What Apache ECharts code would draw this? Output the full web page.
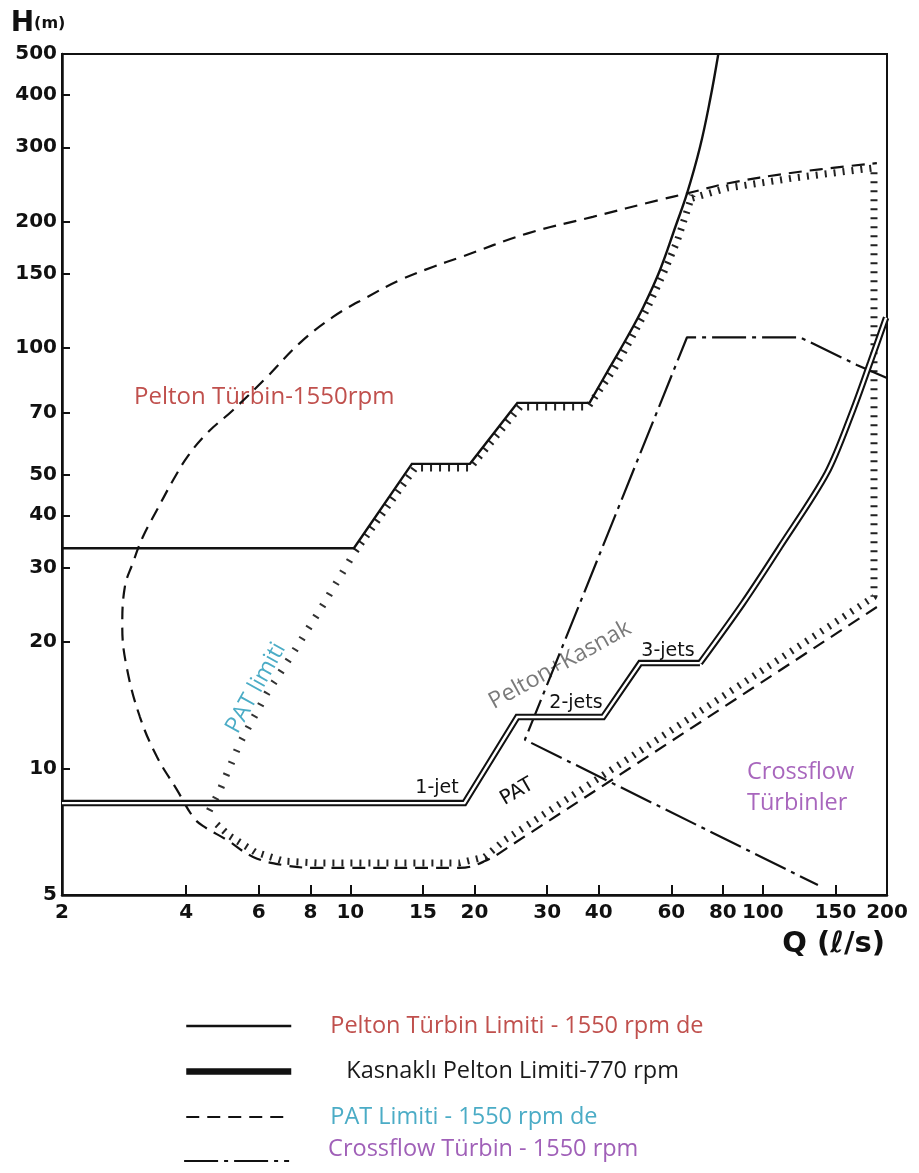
<!DOCTYPE html>
<html>
<head>
<meta charset="utf-8">
<script src="https://cdn.jsdelivr.net/npm/echarts@6/dist/echarts.min.js"></script>
<style>
html,body{margin:0;padding:0;background:#ffffff;}
#chart{width:919px;height:1173px;}
</style>
</head>
<body>
<div id="chart"></div>
<script>
// ---- tick labels ----
const xTicks = [2, 4, 6, 8, 10, 15, 20, 30, 40, 60, 80, 100, 150, 200];
const yTicks = [5, 10, 20, 30, 40, 50, 70, 100, 150, 200, 300, 400, 500];

// ---- series names ----
const nPelton = 'Pelton Türbin Limiti - 1550 rpm de';
const nKasnak = 'Kasnaklı Pelton Limiti-770 rpm';
const nPat = 'PAT Limiti - 1550 rpm de';
const nCross = 'Crossflow Türbin - 1550 rpm';

// ---- data [Q (l/s), H (m)] ----
const peltonSteps = [[2, 33.4], [10.2, 33.4], [14.1, 53], [19.5, 53], [25.4, 74], [38, 74]];
const peltonCurve = [[38, 74], [42.6, 90], [46.9, 106], [51.3, 125], [56.3, 153], [61.6, 196], [65.5, 233], [70.4, 300], [74.5, 389], [78, 500]];

const kasnakSteps = [[2, 8.27], [18.9, 8.27], [25.4, 13.25], [41, 13.25], [50.4, 17.8], [70.4, 17.8]];
const kasnakCurve = [[70.4, 17.8], [89.5, 24.7], [110, 33.6], [143, 50.4], [165.5, 71.2], [182, 92.1], [199, 118]];

const patPath = [[189, 24.2], [24.4, 6.54], [21.2, 6.02], [18.4, 5.8], [8.3, 5.8], [6.87, 5.89], [5.81, 6.16], [5.02, 6.76],
  [4.39, 7.3], [4.16, 7.66], [3.80, 8.89], [3.40, 10.65], [3.09, 13.25], [2.87, 17.4], [2.80, 21.7], [2.84, 27.0],
  [2.97, 30.8], [3.14, 35.5], [3.40, 41.2], [3.72, 48.5], [4.05, 55.5], [4.50, 62.8], [5.20, 71.2], [6.28, 85.3], [7.55, 102.8],
  [9.08, 118.5], [10.97, 132], [13.2, 145], [15.9, 156], [18.4, 164], [26.8, 187], [38.7, 205], [56.3, 225],
  [65.5, 233], [81.9, 246], [118, 261], [189, 275]];

const crossflow = [[200, 84.8], [169, 91.1], [123, 106], [65.5, 106], [26.5, 11.7], [136, 5.28]];

// hatching along region boundaries
const hatchPelton = [[10.3, 32.9], [14.35, 51.8], [19.5, 51.8], [25.8, 72.4], [37.7, 72.4], [43.6, 89.1], [47.9, 105],
  [52.4, 123.8], [57.6, 151.6], [61.9, 178.7], [65.5, 211.6], [67.4, 231]];
const hatchPat = [[67.4, 227], [81.9, 240], [118.4, 253.5], [186, 268], [186, 25.6], [23.7, 6.76], [21.2, 6.16],
  [18.4, 5.96], [8.3, 5.96], [6.90, 6.02], [5.87, 6.33], [5.11, 6.90], [4.62, 7.54]];
const hatchDiag = [[9.98, 31.3], [8.44, 23.8], [7.26, 18.8], [6.28, 15.1], [5.40, 11.5], [4.83, 8.89], [4.52, 7.83]];

// ---- chart ----
const chart = echarts.init(document.getElementById('chart'), null, { renderer: 'canvas' });
const INK = '#111111';
const base = { type: 'line', symbol: 'none', silent: true, animation: false };
const hatchStyle = { color: '#222222', width: 7, type: [2, 7], cap: 'butt' };
const roundInt = v => String(Math.round(v));
const axisFont = { fontFamily: 'DejaVu Sans', fontWeight: 'bold', fontSize: 20, color: INK };
const annFont = '"Open Sans"';

const legendBase = {
  orient: 'vertical', left: 183, padding: 0, height: 200,
  itemWidth: 105, itemHeight: 14, itemGap: 21.5,
  selectedMode: false,
  itemStyle: { opacity: 0 },
  lineStyle: { width: 'inherit' },
  textStyle: { fontFamily: annFont, fontSize: 23.5, lineHeight: 20, padding: [0, 0, 0, 34] }
};

const option = {
  backgroundColor: '#ffffff',
  animation: false,
  grid: { left: 62, top: 54, width: 825, height: 841, show: true, borderColor: INK, borderWidth: 2 },
  xAxis: {
    type: 'log', logBase: 10, min: 2, max: 200,
    axisLine: { lineStyle: { color: INK, width: 2.5 } },
    axisTick: { inside: true, length: 10, lineStyle: { color: INK, width: 2 }, customValues: xTicks },
    axisLabel: Object.assign({ customValues: xTicks, formatter: roundInt, margin: 8 }, axisFont),
    splitLine: { show: false }, minorTick: { show: false }, minorSplitLine: { show: false },
    name: 'Q (ℓ/s)', nameLocation: 'end', nameGap: 0,
    nameTextStyle: { fontFamily: 'DejaVu Sans', fontWeight: 'bold', fontSize: 29, color: INK,
      align: 'right', verticalAlign: 'top', padding: [35, 2, 0, 0] }
  },
  yAxis: {
    type: 'log', logBase: 10, min: 5, max: 500,
    axisLine: { lineStyle: { color: INK, width: 2.5 } },
    axisTick: { inside: true, length: 8, lineStyle: { color: INK, width: 2 }, customValues: yTicks },
    axisLabel: Object.assign({ customValues: yTicks, formatter: roundInt, margin: 5 }, axisFont),
    splitLine: { show: false }, minorTick: { show: false }, minorSplitLine: { show: false },
    name: '{h|H}{m|(m)}', nameLocation: 'end', nameGap: 16,
    nameTextStyle: {
      align: 'center', verticalAlign: 'bottom', padding: [0, 48, 0, 0],
      rich: {
        h: { fontFamily: 'DejaVu Sans', fontWeight: 'bold', fontSize: 28, color: INK },
        m: { fontFamily: 'DejaVu Sans', fontWeight: 'bold', fontSize: 16, color: INK }
      }
    }
  },
  legend: [
    Object.assign({}, legendBase, {
      top: 1014,
      data: [
        { name: nPelton, textStyle: { color: '#c0504d' } },
        { name: nKasnak, textStyle: { color: '#1a1a1a', padding: [0, 0, 0, 50] } },
        { name: nPat, textStyle: { color: '#4bacc6' } }
      ]
    }),
    Object.assign({}, legendBase, {
      top: 1137,
      formatter: name => '{t|' + name + '}\n{s| }',
      textStyle: {
        fontFamily: annFont, fontSize: 23.5, padding: [0, 0, 0, 34], color: '#a060b8',
        rich: {
          t: { fontFamily: annFont, fontSize: 23.5, lineHeight: 28, color: '#a060b8' },
          s: { fontSize: 2, lineHeight: 24 }
        }
      },
      data: [{ name: nCross }]
    })
  ],
  series: [
    Object.assign({}, base, { name: 'hatchPelton', data: hatchPelton, lineStyle: hatchStyle, z: 2 }),
    Object.assign({}, base, { name: 'hatchPat', data: hatchPat, lineStyle: hatchStyle, z: 2 }),
    Object.assign({}, base, { name: 'hatchDiag', data: hatchDiag, lineStyle: { color: '#333', width: 7, type: [2, 11], cap: 'butt' }, z: 2 }),
    Object.assign({}, base, { name: nPelton, data: peltonSteps, lineStyle: { color: INK, width: 2.4, join: 'miter' }, z: 5 }),
    Object.assign({}, base, { name: nPelton, data: peltonCurve, smooth: 0.4, lineStyle: { color: INK, width: 2.4 }, z: 5 }),
    Object.assign({}, base, { name: nKasnak, data: kasnakSteps, lineStyle: { color: INK, width: 6.5, join: 'miter' }, z: 6 }),
    Object.assign({}, base, { name: nKasnak, data: kasnakCurve, smooth: 0.3, lineStyle: { color: INK, width: 6.5 }, z: 6 }),
    Object.assign({}, base, { name: 'kasnakInnerA', data: kasnakSteps, lineStyle: { color: '#ffffff', width: 2.4, join: 'miter' }, z: 7 }),
    Object.assign({}, base, { name: 'kasnakInnerB', data: kasnakCurve, smooth: 0.3, lineStyle: { color: '#ffffff', width: 2.4 }, z: 7 }),
    Object.assign({}, base, { name: nPat, data: patPath, smooth: 0.4, lineStyle: { color: INK, width: 2.2, type: [13, 8] }, z: 4 }),
    Object.assign({}, base, { name: nCross, data: crossflow, lineStyle: { color: INK, width: 2.2, type: [34, 6, 4, 6] }, z: 4 })
  ],
  graphic: [
    { type: 'text', x: 134, y: 397, silent: true, style: { text: 'Pelton Türbin-1550rpm', fill: '#c0504d', fontFamily: annFont, fontSize: 24, align: 'left', verticalAlign: 'middle' } },
    { type: 'text', x: 256, y: 688, rotation: 61 * Math.PI / 180, silent: true, style: { text: 'PAT limiti', fill: '#4bacc6', fontFamily: annFont, fontSize: 23, align: 'center', verticalAlign: 'middle' } },
    { type: 'text', x: 560, y: 665, rotation: 29 * Math.PI / 180, silent: true, style: { text: 'Pelton+Kasnak', fill: '#7a7a7a', fontFamily: annFont, fontSize: 23, align: 'center', verticalAlign: 'middle' } },
    { type: 'text', x: 747, y: 772, silent: true, style: { text: 'Crossflow', fill: '#a866bd', fontFamily: annFont, fontSize: 23.5, align: 'left', verticalAlign: 'middle' } },
    { type: 'text', x: 747, y: 803, silent: true, style: { text: 'Türbinler', fill: '#a866bd', fontFamily: annFont, fontSize: 23.5, align: 'left', verticalAlign: 'middle' } },
    { type: 'text', x: 437, y: 788, silent: true, style: { text: '1-jet', fill: INK, fontFamily: 'DejaVu Sans', fontSize: 19, align: 'center', verticalAlign: 'middle' } },
    { type: 'text', x: 576, y: 703, silent: true, style: { text: '2-jets', fill: INK, fontFamily: 'DejaVu Sans', fontSize: 19, align: 'center', verticalAlign: 'middle' } },
    { type: 'text', x: 668, y: 651, silent: true, style: { text: '3-jets', fill: INK, fontFamily: 'DejaVu Sans', fontSize: 19, align: 'center', verticalAlign: 'middle' } },
    { type: 'text', x: 517, y: 792, rotation: 30 * Math.PI / 180, silent: true, style: { text: 'PAT', fill: INK, fontFamily: 'DejaVu Sans', fontSize: 20, align: 'center', verticalAlign: 'middle' } }
  ]
};
chart.setOption(option);
</script>
</body>
</html>
